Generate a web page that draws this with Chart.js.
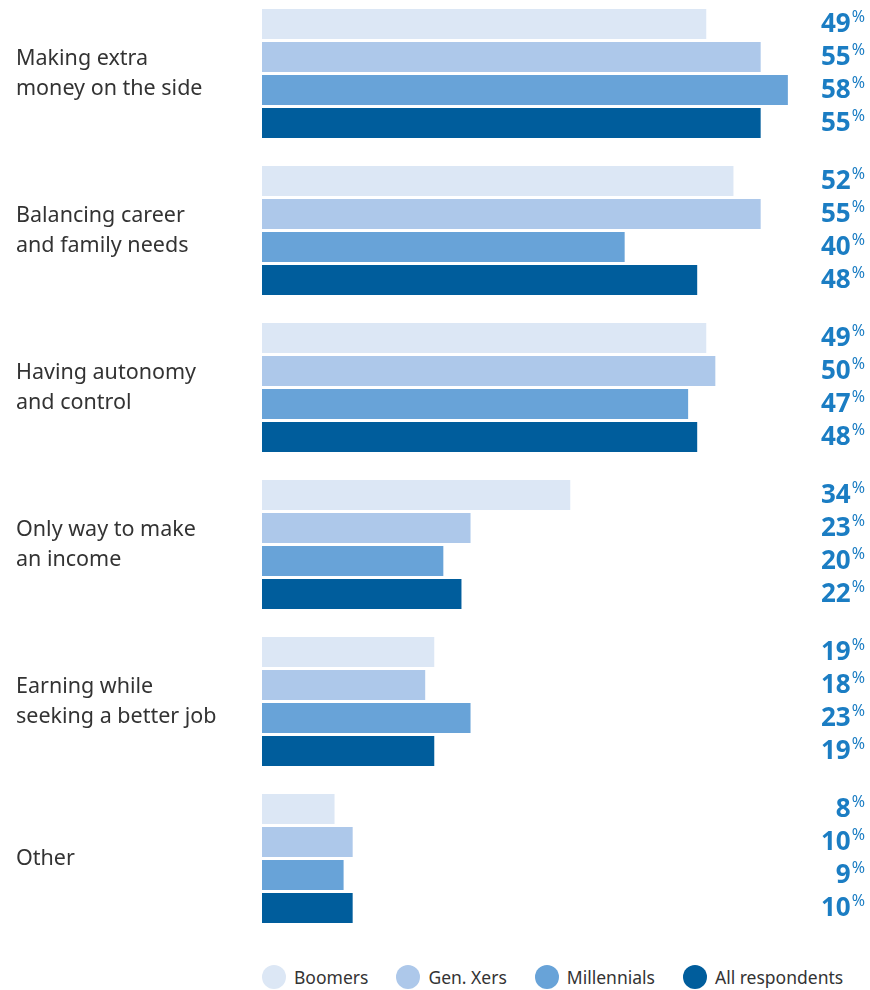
<!DOCTYPE html>
<html>
<head>
<meta charset="utf-8">
<script src="https://cdn.jsdelivr.net/npm/chart.js@4.4.1/dist/chart.umd.min.js"></script>
<style>
  html, body { margin: 0; padding: 0; background: #fff; }
  body { width: 870px; height: 990px; position: relative; overflow: hidden; font-family: 'Noto Sans', sans-serif; }
  #wrap { position: absolute; left: 0; top: -5px; width: 870px; height: 942px; }
  #legend { position: absolute; left: 262px; top: 965px; display: flex; align-items: center; white-space: nowrap; width: max-content; }
  .lg-item { display: flex; align-items: center; margin-right: 28px; font-size: 17.5px; color: #333; line-height: 24px; }
  .lg-dot { width: 24px; height: 24px; border-radius: 50%; margin-right: 8px; flex: none; }
</style>
</head>
<body>
<div id="wrap"><canvas id="chart"></canvas></div>
<div id="legend"></div>

<script>
// categorías (una línea por elemento)
const categories = [
  ['Making extra', 'money on the side'],
  ['Balancing career', 'and family needs'],
  ['Having autonomy', 'and control'],
  ['Only way to make', 'an income'],
  ['Earning while', 'seeking a better job'],
  ['Other']
];

const seriesNames  = ['Boomers', 'Gen. Xers', 'Millennials', 'All respondents'];
const seriesColors = ['#dce7f5', '#adc8ea', '#68a3d8', '#005d9c'];

const boomers     = [49, 52, 49, 34, 19, 8];
const genXers     = [55, 55, 50, 23, 18, 10];
const millennials = [58, 40, 47, 20, 23, 9];
const allResp     = [55, 48, 48, 22, 19, 10];

const seriesValues = [boomers, genXers, millennials, allResp];

// ─── ETIQUETAS DE VALOR (derecha) ──────────────────────────────────────────
const valueLabels = {
  id: 'valueLabels',
  afterDatasetsDraw(chart) {
    const ctx = chart.ctx;
    const right = chart.width - 5;
    ctx.save();
    ctx.fillStyle = '#1b7dc3';
    chart.data.datasets.forEach((ds, di) => {
      const meta = chart.getDatasetMeta(di);
      meta.data.forEach((bar, i) => {
        const y = bar.y;
        ctx.font = '16px "Noto Sans"';
        ctx.textAlign = 'right';
        ctx.textBaseline = 'alphabetic';
        const pw = ctx.measureText('%').width;
        ctx.fillText('%', right, y - 2);
        ctx.font = 'bold 26px "Noto Sans"';
        ctx.fillText(String(ds.data[i]), right - pw - 1, y + 8);
      });
    });
    ctx.restore();
  }
};

new Chart(document.getElementById('chart').getContext('2d'), {
  type: 'bar',
  data: {
    labels: categories,
    datasets: seriesNames.map((name, i) => ({
      label: name,
      data: seriesValues[i],
      backgroundColor: seriesColors[i],
      borderWidth: 0,
      categoryPercentage: 0.8408,
      barPercentage: 0.909
    }))
  },
  options: {
    indexAxis: 'y',
    responsive: true,
    maintainAspectRatio: false,
    animation: false,
    layout: { padding: { left: 16, right: 64, top: 0, bottom: 0 } },
    plugins: {
      legend: { display: false },
      tooltip: { enabled: false }
    },
    scales: {
      x: { display: false, min: 0, max: 60 },
      y: {
        grid: { display: false },
        border: { display: false },
        afterFit: scale => {
          scale.width = 246;
          scale.paddingTop = 0;
          scale.paddingBottom = 0;
        },
        ticks: {
          crossAlign: 'far',
          color: '#333',
          font: { family: 'Noto Sans', size: 21.5, lineHeight: 1.4 }
        }
      }
    }
  },
  plugins: [valueLabels]
});

// ─── LEYENDA ───────────────────────────────────────────────────────────────
document.getElementById('legend').innerHTML = seriesNames.map((name, i) => `
  <div class="lg-item"><span class="lg-dot" style="background:${seriesColors[i]}"></span>${name}</div>
`).join('');
</script>
</body>
</html>
